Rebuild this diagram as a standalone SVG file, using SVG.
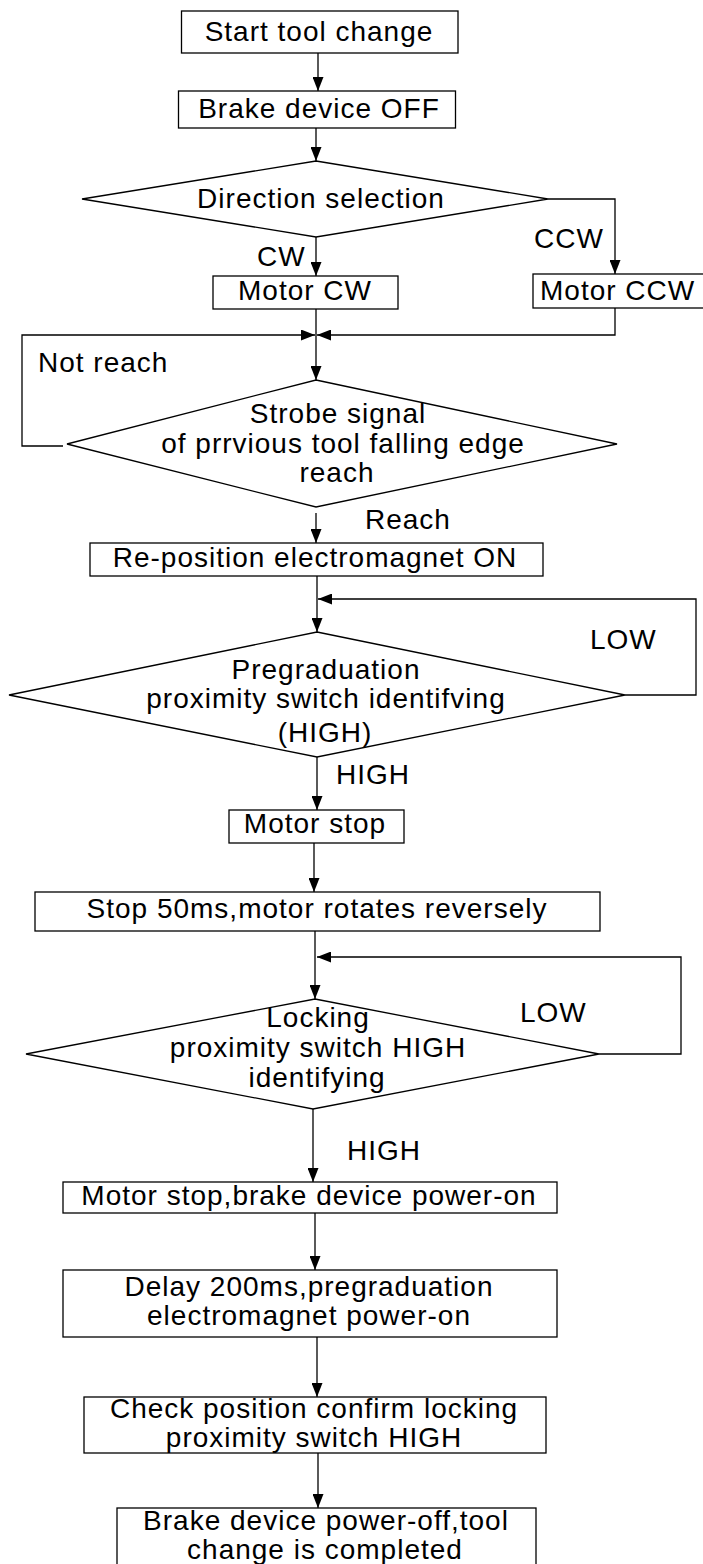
<svg xmlns="http://www.w3.org/2000/svg" width="703" height="1564" viewBox="0 0 703 1564">
<style>
.box{fill:#fff;stroke:#000;stroke-width:1.3}
.t{font-family:"Liberation Sans",Arial,sans-serif;font-size:28px;letter-spacing:1px;fill:#000}
.c{text-anchor:middle}
.ln{fill:none;stroke:#000;stroke-width:1.3;marker-end:url(#ah)}
</style>
<defs>
<marker id="ah" markerUnits="userSpaceOnUse" markerWidth="14" markerHeight="11" refX="14" refY="5.5" orient="auto">
<path d="M0,0 L14,5.5 L0,11 z" fill="#000"/>
</marker>
</defs>
<rect width="703" height="1564" fill="#fff"/>
<g id="connectors">
<path class="ln" d="M318,53 V91"/>
<path class="ln" d="M316,128 V161"/>
<path class="ln" d="M316,237 V276"/>
<path class="ln" d="M548,199 H615 V274"/>
<path class="ln" d="M316,309 V380"/>
<path class="ln" d="M615,308 V335 H317"/>
<path class="ln" d="M63,446 H22 V335 H315"/>
<path class="ln" d="M316,513 V543"/>
<path class="ln" d="M317,576 V632"/>
<path class="ln" d="M625,695 H696 V599 H318"/>
<path class="ln" d="M317,757 V810"/>
<path class="ln" d="M314,843 V892"/>
<path class="ln" d="M315,931 V999"/>
<path class="ln" d="M599,1054 H681 V957 H317"/>
<path class="ln" d="M313,1109 V1182"/>
<path class="ln" d="M315,1213 V1270"/>
<path class="ln" d="M317,1337 V1397"/>
<path class="ln" d="M318,1453 V1508"/>
</g>
<g id="labels">
<text class="t" x="257" y="266">CW</text>
<text class="t" x="534" y="248">CCW</text>
<text class="t" x="38" y="372">Not reach</text>
<text class="t" x="365" y="529">Reach</text>
<text class="t" x="590" y="649">LOW</text>
<text class="t" x="336" y="784">HIGH</text>
<text class="t" x="520" y="1022">LOW</text>
<text class="t" x="347" y="1160">HIGH</text>
</g>
<g id="start">
<rect class="box" x="181.5" y="11" width="276.5" height="42"/>
<text class="t c" x="319" y="41">Start tool change</text>
</g>
<g id="brake-off">
<rect class="box" x="178.5" y="91" width="277" height="37"/>
<text class="t c" x="319" y="118">Brake device OFF</text>
</g>
<g id="direction">
<polygon class="box" points="316,161 548,199 316,237 82,199"/>
<text class="t c" x="321" y="208">Direction selection</text>
</g>
<g id="motor-cw">
<rect class="box" x="213" y="276" width="185" height="33"/>
<text class="t c" x="305" y="300">Motor CW</text>
</g>
<g id="motor-ccw">
<rect class="box" x="533" y="274" width="180" height="34"/>
<text class="t" x="540" y="300">Motor CCW</text>
</g>
<g id="strobe">
<polygon class="box" points="316,380 617,444 316,507 67,444"/>
<text class="t c" x="338" y="423">Strobe signal</text>
<text class="t c" x="343" y="453">of prrvious tool falling edge</text>
<text class="t c" x="337" y="482">reach</text>
</g>
<g id="reposition">
<rect class="box" x="90" y="543" width="453" height="33"/>
<text class="t c" x="315" y="567">Re-position electromagnet ON</text>
</g>
<g id="pregraduation">
<polygon class="box" points="317,632 625,695 317,757 9,695"/>
<text class="t c" x="326" y="679">Pregraduation</text>
<text class="t c" x="326" y="708">proximity switch identifving</text>
<text class="t c" x="325" y="742">(HIGH)</text>
</g>
<g id="motor-stop">
<rect class="box" x="229" y="810" width="175" height="33"/>
<text class="t c" x="315" y="833">Motor stop</text>
</g>
<g id="stop50">
<rect class="box" x="35" y="892" width="565" height="39"/>
<text class="t c" x="317" y="918">Stop 50ms,motor rotates reversely</text>
</g>
<g id="locking">
<polygon class="box" points="315,999 599,1054 313,1109 26,1054"/>
<text class="t c" x="318" y="1027">Locking</text>
<text class="t c" x="318" y="1057">proximity switch HIGH</text>
<text class="t c" x="317" y="1087">identifying</text>
</g>
<g id="motor-stop-brake">
<rect class="box" x="63" y="1182" width="494" height="31"/>
<text class="t c" x="309" y="1205">Motor stop,brake device power-on</text>
</g>
<g id="delay">
<rect class="box" x="63" y="1270" width="494" height="67"/>
<text class="t c" x="309" y="1296">Delay 200ms,pregraduation</text>
<text class="t c" x="309" y="1325">electromagnet power-on</text>
</g>
<g id="check">
<rect class="box" x="84" y="1397" width="462" height="56"/>
<text class="t c" x="314" y="1418">Check position confirm locking</text>
<text class="t c" x="314" y="1447">proximity switch HIGH</text>
</g>
<g id="finish">
<rect class="box" x="117" y="1508" width="419" height="70"/>
<text class="t c" x="326" y="1530">Brake device power-off,tool</text>
<text class="t c" x="325" y="1559">change is completed</text>
</g>
</svg>
